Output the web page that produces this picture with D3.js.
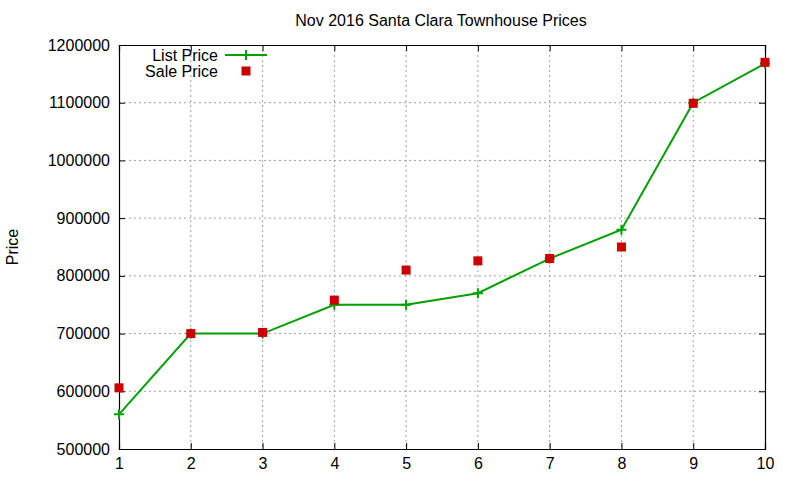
<!DOCTYPE html>
<html>
<head>
<meta charset="utf-8">
<script src="https://cdn.jsdelivr.net/npm/d3@7"></script>
<style>
  body { margin: 0; background: #fff; }
  text { font-family: "Liberation Sans", Arial, sans-serif; fill: #000; }
</style>
</head>
<body>
<svg id="chart" width="800" height="480"></svg>
<script>
// data
const listings = [1, 2, 3, 4, 5, 6, 7, 8, 9, 10];
const listPrice = [560000, 700000, 700000, 750000, 750000, 770000, 830000, 880000, 1100000, 1168000];
const salePrice = [606000, 700000, 702000, 758000, 810000, 826000, 830000, 850000, 1099000, 1170000];
const yTicks = [500000, 600000, 700000, 800000, 900000, 1000000, 1100000, 1200000];

const margin = {left: 119, right: 35, top: 45, bottom: 31};
const width = 800 - margin.left - margin.right;
const height = 480 - margin.top - margin.bottom;

const svg = d3.select("#chart");
const g = svg.append("g").attr("transform", `translate(${margin.left},${margin.top})`);

const x = d3.scaleLinear().domain([1, 10]).range([0, width]);
const y = d3.scaleLinear().domain([500000, 1200000]).range([height, 0]);

// grid
g.append("g").selectAll("line").data(listings.slice(1, -1)).join("line")
    .attr("x1", d => x(d)).attr("x2", d => x(d))
    .attr("y1", 0).attr("y2", height)
    .attr("stroke", "#a0a0a0").attr("stroke-dasharray", "2,3");
g.append("g").selectAll("line").data(yTicks.slice(1, -1)).join("line")
    .attr("x1", 0).attr("x2", width)
    .attr("y1", d => y(d)).attr("y2", d => y(d))
    .attr("stroke", "#a0a0a0").attr("stroke-dasharray", "2,3");

// axes, gnuplot style: inward ticks mirrored on all sides
const tk = 6;
g.append("g").attr("transform", `translate(0,${height})`)
    .call(d3.axisBottom(x).tickValues(listings).tickSize(-tk).tickPadding(9).tickFormat(d3.format("d")));
g.append("g")
    .call(d3.axisLeft(y).tickValues(yTicks).tickSize(-tk).tickPadding(9).tickFormat(d3.format("d")));
g.append("g")
    .call(d3.axisTop(x).tickValues(listings).tickSize(-tk).tickFormat(""));
g.append("g").attr("transform", `translate(${width},0)`)
    .call(d3.axisRight(y).tickValues(yTicks).tickSize(-tk).tickFormat(""));
g.selectAll(".domain").attr("stroke", "#000").attr("stroke-width", 1.2);
g.selectAll(".tick line").attr("stroke", "#000");
g.selectAll(".tick text").style("font-size", "16px").style("font-family", "Liberation Sans, Arial, sans-serif");

// list price line
const line = d3.line().x((d, i) => x(listings[i])).y(d => y(d));
g.append("path").datum(listPrice)
    .attr("d", line).attr("fill", "none")
    .attr("stroke", "#00a000").attr("stroke-width", 2);

const plus = 5;
g.append("g").selectAll("path").data(listPrice).join("path")
    .attr("d", (d, i) => {
      const cx = x(listings[i]), cy = y(d);
      return `M${cx - plus},${cy}H${cx + plus}M${cx},${cy - plus}V${cy + plus}`;
    })
    .attr("stroke", "#00a000").attr("stroke-width", 2);

// sale price squares
const sq = 9;
g.append("g").selectAll("rect").data(salePrice).join("rect")
    .attr("x", (d, i) => x(listings[i]) - sq / 2)
    .attr("y", d => y(d) - sq / 2)
    .attr("width", sq).attr("height", sq)
    .attr("fill", "#cc0000");

// legend
const legend = svg.append("g");
legend.append("text").attr("x", 218).attr("y", 61).attr("text-anchor", "end")
    .style("font-size", "16px").text("List Price");
legend.append("line").attr("x1", 225).attr("x2", 267).attr("y1", 55).attr("y2", 55)
    .attr("stroke", "#00a000").attr("stroke-width", 2);
legend.append("path").attr("d", `M${246 - plus},55H${246 + plus}M246,${55 - plus}V${55 + plus}`)
    .attr("stroke", "#00a000").attr("stroke-width", 2);
legend.append("text").attr("x", 218).attr("y", 77).attr("text-anchor", "end")
    .style("font-size", "16px").text("Sale Price");
legend.append("rect").attr("x", 246 - sq / 2).attr("y", 71 - sq / 2)
    .attr("width", sq).attr("height", sq).attr("fill", "#cc0000");

// title and axis label
svg.append("text").attr("x", 441).attr("y", 26).attr("text-anchor", "middle")
    .style("font-size", "16px").text("Nov 2016 Santa Clara Townhouse Prices");
svg.append("text").attr("transform", "translate(18,247) rotate(-90)")
    .attr("text-anchor", "middle").style("font-size", "16px").text("Price");
</script>
</body>
</html>
